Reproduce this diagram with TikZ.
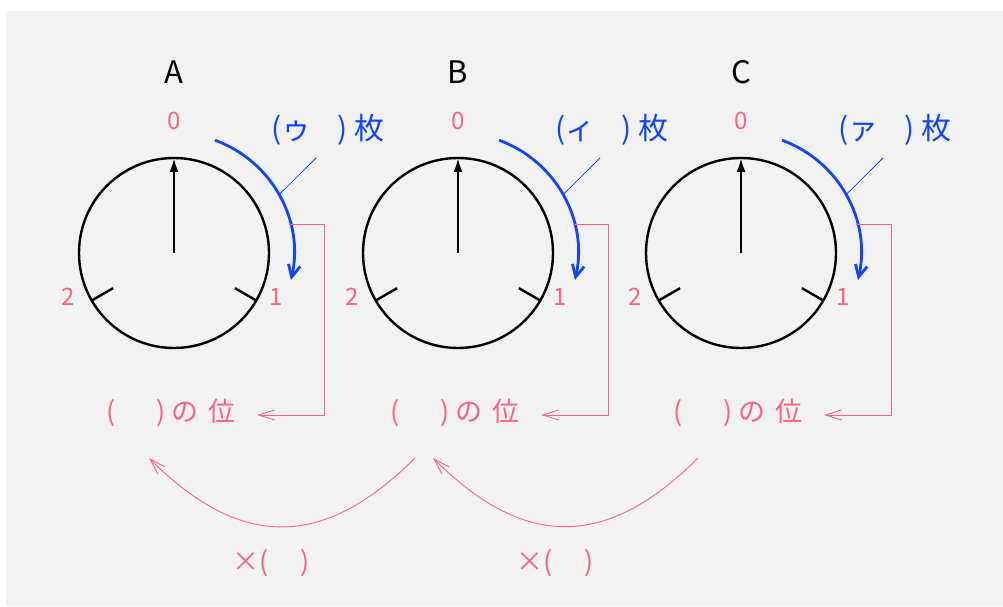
\documentclass[tikz,border=0pt]{standalone}
\usepackage{fontspec}
\newfontfamily\jp{Noto Sans CJK JP}
\usetikzlibrary{arrows.meta,calc}
\definecolor{bggray}{RGB}{242,242,242}
\definecolor{markpink}{RGB}{252,98,132}
\definecolor{countblue}{RGB}{18,68,255}
\tikzset{
  dial/.style={circle, draw=black, line width=2.4pt, minimum size=190pt,
               inner sep=0pt, outer sep=0pt},
  needle/.style={line width=2.2pt, -{Latex[length=14pt,width=9pt]}},
  dialtick/.style={line width=2.4pt},
  turn/.style={countblue, line width=2.8pt, -{Straight Barb[length=12pt,width=12pt]}},
  leader/.style={countblue, line width=0.8pt},
  pinkarrow/.style={markpink, line width=0.9pt, -{Straight Barb[length=16pt,width=10pt]}},
  digit/.style={text=markpink, font=\jp\fontsize{24}{28}\selectfont},
  letter/.style={font=\jp\fontsize{31}{36}\selectfont},
  count/.style={text=countblue, font=\jp\fontsize{30}{34}\selectfont},
  place/.style={text=markpink, font=\jp\fontsize{27}{31}\selectfont},
}
\begin{document}
\begin{tikzpicture}[x=1pt, y=1pt]
\useasboundingbox (0,0) rectangle (1003,606);
\fill[bggray] (6,0) rectangle (1003,595);

% three dials
\foreach \name/\x/\kana in {A/174/ゥ, B/458/ィ, C/741/ァ} {
  \coordinate (c\name) at (\x,353);
  \node[dial] (dial\name) at (c\name) {};
  \draw[needle] (c\name) -- (dial\name.north);
  \draw[dialtick] (dial\name.-30) -- ($(c\name)!0.74!(dial\name.-30)$);
  \draw[dialtick] (dial\name.210) -- ($(c\name)!0.74!(dial\name.210)$);
  \node[letter] (let\name) at (\x,534) {\name};
  \node[digit] (zero\name) at (\x,485) {0};
  \node[digit] (one\name) at ($(c\name)+(102,-44)$) {1};
  \node[digit] (two\name) at ($(c\name)+(-106,-44)$) {2};
  % turned amount
  \draw[turn] ($(c\name)+(70:120)$) arc[start angle=70, end angle=-13, radius=120pt];
  \coordinate (lead\name) at ($(c\name)+(29:120)$);
  \coordinate (brk\name) at ($(c\name)+(14:118)$);
  \node[count] (cnt\name) at ($(c\name)+(154,123)$) {(\kana\hspace{0.87em})\hspace{0.23em}枚};
  \draw[leader] ($(cnt\name.center)+(-12,-28)$) -- (lead\name);
  % place value
  \node[place] (pl\name) at ($(c\name)+(-3,-160)$) {(\hspace{1.5em})\hspace{0.24em}の\hspace{0.37em}位};
  \draw[pinkarrow] (brk\name) -- ++(36,0) |- ($(pl\name.east)+(18,-2)$);
}

% between places
\foreach \a/\b in {A/B, B/C} {
  \draw[pinkarrow] ($(pl\b.center)+(-40,-45)$) to[out=-135, in=-45, looseness=1.25]
    ($(pl\a.center)+(-22,-45)$);
  \node[place] (times\a) at ($(pl\a.center)+(100,-150)$) {×(\hspace{1.2em})};
}
\end{tikzpicture}
\end{document}
